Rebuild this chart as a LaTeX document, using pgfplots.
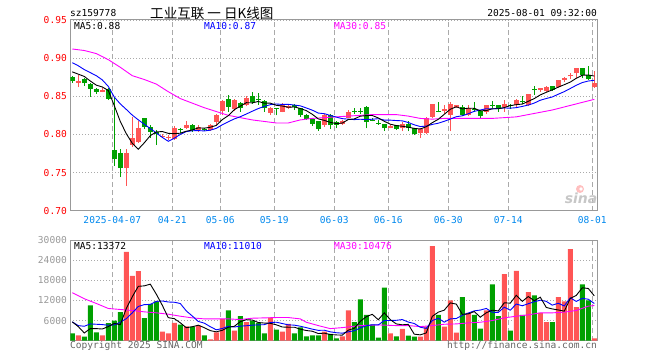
\documentclass[border=0pt]{standalone}
\usepackage{pgfplots}
\pgfplotsset{compat=1.18}
\usepackage{pgfplotstable}
\usepackage{fontspec}
\newfontfamily\mono{DejaVu Sans Mono}
\newfontfamily\cjk{Noto Sans CJK SC}
\newfontfamily\sinaf{DejaVu Sans}
\definecolor{cR}{HTML}{FF5555}
\definecolor{cG}{HTML}{00A000}
\definecolor{cB}{HTML}{0000FF}
\definecolor{cM}{HTML}{FF00FF}
\definecolor{cDate}{HTML}{0088EE}
\definecolor{cFrame}{HTML}{999999}
\definecolor{cGrid}{HTML}{AAAAAA}
\definecolor{cTxt}{HTML}{666666}
\newcommand\mf{\mono\fontsize{9.6}{10}\selectfont}

% price candles: i O H L C
\pgfplotstableread{
i O H L C
1 .868 .878 .862 .870
5 .856 .861 .855 .858
9 .756 .781 .733 .776
10 .786 .823 .784 .795
11 .790 .818 .789 .808
15 .797 .801 .795 .798
16 .795 .799 .793 .796
17 .794 .811 .793 .808
19 .808 .817 .807 .813
21 .806 .812 .803 .810
23 .806 .814 .805 .812
24 .816 .827 .813 .825
25 .831 .845 .825 .844
27 .833 .846 .831 .845
29 .839 .850 .837 .848
33 .828 .836 .826 .835
35 .830 .841 .829 .838
36 .835 .839 .833 .837
42 .812 .827 .810 .826
45 .814 .819 .813 .8175
46 .822 .832 .821 .830
53 .809 .812 .808 .811
55 .808 .816 .804 .8135
58 .802 .808 .795 .807
59 .802 .823 .800 .822
60 .823 .840 .822 .840
62 .831 .838 .827 .833
63 .825 .842 .804 .840
64 .836 .839 .835 .838
66 .825 .838 .824 .835
69 .830 .839 .827 .839
72 .836 .845 .830 .840
74 .838 .846 .835 .845
76 .838 .853 .837 .853
78 .8585 .861 .856 .861
79 .857 .863 .856 .862
81 .862 .871 .861 .871
82 .8716 .8755 .869 .8738
83 .876 .880 .873 .878
84 .880 .887 .874 .887
87 .862 .883 .861 .867
}\upT
\pgfplotstableread{
i O H L C
0 .875 .877 .868 .870
2 .872 .874 .864 .867
3 .866 .867 .849 .860
4 .860 .861 .853 .856
6 .860 .861 .845 .847
7 .779 .849 .759 .768
8 .775 .781 .744 .756
12 .821 .822 .807 .810
13 .810 .812 .795 .803
14 .803 .806 .786 .800
18 .807 .809 .802 .806
20 .813 .814 .803 .806
22 .807 .808 .804 .806
26 .847 .852 .830 .836
28 .841 .842 .830 .835
30 .851 .855 .840 .843
31 .846 .854 .839 .845
32 .844 .845 .830 .834
34 .835 .835 .825 .834
37 .838 .840 .832 .836
38 .834 .835 .823 .825
39 .826 .827 .819 .820
40 .820 .820 .811 .814
41 .817 .818 .805 .807
43 .825 .827 .807 .812
44 .816 .818 .808 .812
47 .831 .834 .827 .830
48 .831 .834 .827 .830
49 .836 .837 .808 .816
50 .819 .822 .817 .818
51 .815 .819 .813 .814
52 .8135 .814 .805 .808
54 .812 .813 .806 .807
56 .8135 .817 .804 .808
57 .808 .809 .799 .800
61 .8305 .842 .829 .830
65 .836 .838 .824 .826
67 .833 .842 .830 .832
68 .831 .832 .821 .824
70 .8386 .844 .835 .8376
71 .838 .839 .830 .835
73 .838 .840 .833 .837
75 .844 .851 .840 .842
77 .859 .864 .852 .858
80 .864 .864 .857 .858
85 .887 .887 .874 .878
86 .878 .890 .871 .8725
}\downT

% price moving averages
\pgfplotstableread{
i v
0 .882
1 .879
2 .876
3 .870
4 .8646
5 .8622
6 .8576
7 .8378
8 .817
9 .801
10 .7884
11 .7806
12 .789
13 .7984
14 .8032
15 .8038
16 .8014
17 .801
18 .8016
19 .8042
20 .8058
21 .8086
22 .8082
23 .8094
24 .8118
25 .8194
26 .8246
27 .8324
28 .837
29 .8416
30 .8414
31 .8432
32 .841
33 .841
34 .8382
35 .8372
36 .8356
37 .836
38 .834
39 .8312
40 .8264
41 .8204
42 .8184
43 .8158
44 .8142
45 .8149
46 .8195
47 .8203
48 .8239
49 .8247
50 .8248
51 .8216
52 .8172
53 .8134
54 .8116
55 .8107
56 .8095
57 .8079
58 .8071
59 .8101
60 .8154
61 .8198
62 .8264
63 .833
64 .8362
65 .8334
66 .8344
67 .8342
68 .831
69 .8312
70 .8336
71 .8336
72 .8352
73 .8378
74 .839
75 .8398
76 .8434
77 .847
78 .8518
79 .8552
80 .8584
81 .862
82 .8652
83 .8686
84 .8736
85 .8776
86 .8779
87 .8765
}\maFive
\pgfplotstableread{
i v
0 .894
1 .890
2 .885
3 .881
4 .877
5 .8715
6 .863
7 .849
8 .840
9 .8328
10 .8253
11 .8191
12 .8134
13 .8077
14 .8021
15 .7961
16 .791
17 .795
18 .800
19 .8037
20 .8048
21 .805
22 .8046
23 .8055
24 .808
25 .8126
26 .8166
27 .8203
28 .8232
29 .8267
30 .8304
31 .8339
32 .8367
33 .839
34 .8399
35 .8393
36 .8394
37 .8385
38 .8375
39 .8347
40 .8318
41 .828
42 .8272
43 .8249
44 .8227
45 .8207
46 .820
47 .8194
48 .8199
49 .8195
50 .8199
51 .8206
52 .8188
53 .8187
54 .8182
55 .8178
56 .8156
57 .8126
58 .8103
59 .8109
60 .8131
61 .8147
62 .8172
63 .8201
64 .8232
65 .8244
66 .8271
67 .8303
68 .832
69 .8337
70 .8335
71 .834
72 .8347
73 .8344
74 .8351
75 .8367
76 .8385
77 .8411
78 .8448
79 .8471
80 .8491
81 .8527
82 .8561
83 .8602
84 .8644
85 .868
86 .870
87 .8709
}\maTen
\pgfplotstableread{
i v
0 .912
2 .910
4 .906
6 .898
8 .888
10 .877
12 .872
14 .866
16 .856
18 .847
20 .841
22 .835
24 .830
26 .825
28 .822
30 .819
32 .817
34 .815
36 .815
38 .819
40 .821
42 .822
44 .823
46 .824
48 .825
50 .826
52 .826
54 .826
56 .824
58 .821
60 .820
62 .821
64 .821
66 .821
68 .821
70 .821
72 .822
74 .823
76 .826
78 .829
80 .832
82 .836
84 .840
86 .844
87 .846
}\maThirty

% volumes
\pgfplotstableread{
i v
1 1600
5 1600
9 26500
10 19300
11 20700
15 2700
16 2200
17 5300
19 4300
21 4500
23 400
24 2500
25 6500
27 3000
29 5500
33 6900
35 2700
36 5000
42 2700
45 1300
46 9000
53 2200
55 3500
58 1200
59 4200
60 28200
62 4200
63 12000
64 2400
66 8300
69 9000
72 19800
74 20800
76 14500
78 8300
79 5500
81 13000
82 11700
83 27300
84 10000
87 700
}\volUp
\pgfplotstableread{
i v
0 2200
2 1200
3 10500
4 2500
6 5200
7 6000
8 8500
12 6700
13 11000
14 11700
18 4800
20 4200
22 1600
26 9000
28 7300
30 6000
31 5300
32 2200
34 3300
37 2200
38 4000
39 1300
40 1600
41 1600
43 2000
44 700
47 5500
48 12300
49 7700
50 4800
51 900
52 15800
54 1300
56 1500
57 1200
61 7700
65 13000
67 7700
68 3600
70 16800
71 7300
73 3000
75 7700
77 13500
80 5500
85 16800
86 12000
}\volDown
\pgfplotstableread{
i v
0 5600
1 4200
2 2300
3 3600
4 3600
5 3480
6 4200
7 5160
8 4760
9 9560
10 13100
11 16200
12 16340
13 16840
14 13880
15 10560
16 6860
17 6580
18 5340
19 3860
20 4160
21 4620
22 3880
23 3000
24 2640
25 3100
26 4000
27 4280
28 5660
29 6260
30 6160
31 5420
32 5260
33 5180
34 4740
35 4080
36 4020
37 4020
38 3440
39 3040
40 2820
41 2140
42 2240
43 1840
44 1720
45 1660
46 3140
47 3700
48 5760
49 7160
50 7860
51 6240
52 8300
53 6280
54 5000
55 4740
56 4860
57 1940
58 1740
59 2320
60 7260
61 8500
62 9100
63 11260
64 10900
65 7860
66 7980
67 8680
68 7000
69 8320
70 9080
71 8880
72 11300
73 11180
74 13540
75 11720
76 13160
77 11900
78 12960
79 9900
80 9460
81 9160
82 8800
83 12600
84 13500
85 15760
86 15560
87 13360
}\vmaFive
\pgfplotstableread{
i v
0 5600
1 4500
2 4300
3 5000
4 4900
5 4800
6 4600
7 4700
8 5500
9 6580
10 8290
11 10200
12 10750
13 10800
14 11720
15 11830
16 11530
17 11460
18 11090
19 8870
20 7360
21 5740
22 5230
23 4170
24 3250
25 3630
26 4310
27 4080
28 4330
29 4450
30 4630
31 4710
32 4770
33 5420
34 5500
35 5120
36 4720
37 4640
38 4310
39 3890
40 3450
41 3080
42 3130
43 2640
44 2380
45 2240
46 2640
47 2970
48 3800
49 4440
50 4760
51 4690
52 6000
53 6020
54 6080
55 6300
56 5550
57 5120
58 4010
59 3660
60 6000
61 6680
62 5520
63 6500
64 6610
65 7560
66 8240
67 8890
68 9130
69 9610
70 8470
71 8430
72 9990
73 9090
74 10930
75 10400
76 11020
77 11600
78 12070
79 11720
80 10590
81 11160
82 10350
83 12780
84 11700
85 12610
86 12360
87 11080
}\vmaTen
\pgfplotstableread{
i v
0 14300
2 12500
4 11100
6 9600
8 9300
10 9000
12 8600
14 8300
16 7900
18 7300
20 6800
22 6500
24 6500
26 6500
28 6300
30 6700
32 6800
34 6900
36 6900
38 6500
39 5500
41 4500
43 3600
45 3900
48 4500
51 4700
54 4500
56 4500
58 4200
60 4500
62 4900
64 5000
66 5300
68 5500
70 6000
72 6800
74 7300
76 7700
78 8300
80 8300
82 8500
84 9000
86 10300
87 10476
}\vmaThirty

\pgfplotsset{
  kpanel/.style={
    scale only axis, anchor=south west, width=527.4bp,
    xmin=-0.33, xmax=87.57,
    axis line style={draw=cFrame, line width=1bp},
    major tick length=0pt,
    xtick={6.667,16.667,24.667,33.667,43.667,52.667,62.667,72.667,86.667},
    xmajorgrids, ymajorgrids,
    x grid style={draw=cGrid, line width=0.9bp, dash pattern=on 5bp off 3bp},
    y grid style={draw=cGrid, line width=0.9bp, dash pattern=on 1bp off 2bp},
    tick label style={font=\mf},
    /pgf/number format/assume math mode=true,
  },
  maline/.style={line width=0.9bp, mark=none, forget plot},
}

\begin{document}
\begin{tikzpicture}
\useasboundingbox (0,0) rectangle (660bp,360bp);

% ---------- price panel ----------
\begin{axis}[kpanel,
  at={(70.3bp,149.3bp)}, height=190.7bp,
  ymin=0.70, ymax=0.95,
  ytick={0.70,0.75,0.80,0.85,0.90,0.95},
  yticklabel style={text=red, /pgf/number format/.cd, fixed, fixed zerofill, precision=2},
  xticklabels={2025-04-07,04-21,05-06,05-19,06-03,06-16,06-30,07-14,08-01},
  xticklabel style={text=cDate, yshift=-2.5bp},
]
% wicks
\addplot[draw=none, forget plot, error bars/.cd, y dir=plus, y explicit, error mark=none,
  error bar style={draw=cR, line width=1bp, solid}]
  table[x=i, y=L, y error plus expr=\thisrow{H}-\thisrow{L}] {\upT};
\addplot[draw=none, forget plot, error bars/.cd, y dir=plus, y explicit, error mark=none,
  error bar style={draw=cG, line width=1bp, solid}]
  table[x=i, y=L, y error plus expr=\thisrow{H}-\thisrow{L}] {\downT};
% bodies
\addplot[draw=none, forget plot, error bars/.cd, y dir=plus, y explicit, error mark=none,
  error bar style={draw=cR, line width=4.5bp, solid}]
  table[x=i, y=O, y error plus expr=\thisrow{C}-\thisrow{O}] {\upT};
\addplot[draw=none, forget plot, error bars/.cd, y dir=plus, y explicit, error mark=none,
  error bar style={draw=cG, line width=4.5bp, solid}]
  table[x=i, y=C, y error plus expr=\thisrow{O}-\thisrow{C}] {\downT};
% moving averages
\addplot[maline, cM] table[x=i, y=v] {\maThirty};
\addplot[maline, cB] table[x=i, y=v] {\maTen};
\addplot[maline, black] table[x=i, y=v] {\maFive};
\end{axis}

% ---------- volume panel ----------
\begin{axis}[kpanel,
  at={(70.3bp,19.3bp)}, height=100.7bp,
  ymin=0, ymax=30000,
  ytick={6000,12000,18000,24000,30000},
  scaled y ticks=false,
  yticklabel style={text=cFrame, /pgf/number format/.cd, fixed, 1000 sep={}},
  xticklabels={},
]
\addplot[ybar, bar width=5bp, bar shift=0pt, fill=cR, draw=none, forget plot] table[x=i, y=v] {\volUp};
\addplot[ybar, bar width=5bp, bar shift=0pt, fill=cG, draw=none, forget plot] table[x=i, y=v] {\volDown};
\addplot[maline, cM] table[x=i, y=v] {\vmaThirty};
\addplot[maline, cB] table[x=i, y=v] {\vmaTen};
\addplot[maline, black] table[x=i, y=v] {\vmaFive};
\end{axis}

% ---------- texts ----------
\begin{scope}[every node/.style={inner sep=0pt}]
\node[anchor=west] at (70bp,346.5bp) {\mf sz159778};
\node[anchor=west] at (150bp,347bp) {\cjk\fontsize{13.6}{14}\selectfont 工业互联 一 日K线图};
\node[anchor=east] at (597bp,346.5bp) {\mf 2025-08-01 09:32:00};
\node[anchor=west] at (74bp,333.5bp) {\mf MA5:0.88};
\node[anchor=west, text=cB] at (204bp,333.5bp) {\mf MA10:0.87};
\node[anchor=west, text=cM] at (334bp,333.5bp) {\mf MA30:0.85};
\node[anchor=west] at (74bp,113.5bp) {\mf MA5:13372};
\node[anchor=west, text=cB] at (204bp,113.5bp) {\mf MA10:11010};
\node[anchor=west, text=cM] at (334bp,113.5bp) {\mf MA30:10476};
\node[anchor=west, text=cTxt] at (70bp,14.5bp) {\mf Copyright 2025 SINA.COM};
\node[anchor=east, text=cTxt] at (597bp,14.5bp) {\mf http://finance.sina.com.cn};
\fill[red!25] (580bp,171bp) circle (4bp);
\fill[white] (581bp,171bp) circle (1.8bp);
\node[text=black!22] at (581bp,162bp) {\sinaf\bfseries\itshape\fontsize{14}{14}\selectfont sina};
\end{scope}
\end{tikzpicture}
\end{document}
